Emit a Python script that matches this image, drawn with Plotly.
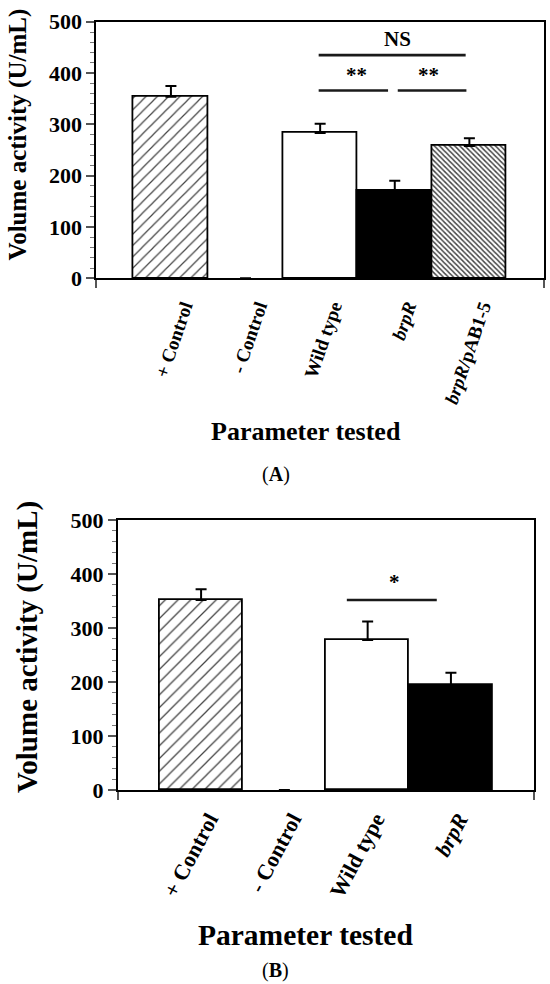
import plotly.graph_objects as go

# ---------------- data ----------------
cats_a = ["+ Control", "- Control", "Wild type", "<i>brpR</i>", "<i>brpR</i>/pAB1-5"]
vals_a = [354, 0, 283, 170, 258]
err_a = [21, 0, 18, 20, 15]

cats_b = ["+ Control", "- Control", "Wild type", "<i>brpR</i>"]
vals_b = [352, 0, 278, 194]
err_b = [20, 0, 34, 23]

y_ticks = [0, 100, 200, 300, 400, 500]

FONT = "Liberation Serif"

pos_a = list(range(len(cats_a)))
pos_b = list(range(len(cats_b)))

fig = go.Figure()

# Panel A bars
fig.add_trace(go.Bar(
    x=pos_a, y=vals_a, width=1,
    marker=dict(
        color=["white", "white", "white", "black", "white"],
        line=dict(color="black", width=[1.8, 0, 1.8, 1.8, 1.8]),
        pattern=dict(shape=["/", "", "", "", "\\"],
                     size=[8, 8, 8, 8, 3.6],
                     solidity=[0.15, 0.1, 0.1, 0.1, 0.4],
                     fgcolor="#222222", fgopacity=1, fillmode="overlay"),
    ),
    error_y=dict(type="data", symmetric=False, array=err_a,
                 arrayminus=[0] * len(err_a), thickness=2, width=5.5, color="black"),
    xaxis="x", yaxis="y", showlegend=False, hoverinfo="skip",
))

# Panel B bars
fig.add_trace(go.Bar(
    x=pos_b, y=vals_b, width=1,
    marker=dict(
        color=["white", "white", "white", "black"],
        line=dict(color="black", width=[1.8, 0, 1.8, 1.8]),
        pattern=dict(shape=["/", "", "", ""], size=9, solidity=0.14,
                     fgcolor="#222222", fgopacity=1, fillmode="overlay"),
    ),
    error_y=dict(type="data", symmetric=False, array=err_b,
                 arrayminus=[0] * len(err_b), thickness=2, width=5.5, color="black"),
    xaxis="x2", yaxis="y2", showlegend=False, hoverinfo="skip",
))

ax_common = dict(showgrid=False, zeroline=False, showline=True, linecolor="black",
                 linewidth=1.8, mirror=True, automargin=False)

fig.update_layout(
    template="none",
    width=550, height=984,
    margin=dict(l=0, r=0, t=0, b=0, pad=0),
    paper_bgcolor="white", plot_bgcolor="white",
    bargap=0,
    xaxis=dict(domain=[0.1751, 0.9891], anchor="y", range=[-1, len(cats_a)],
               tickmode="array", tickvals=pos_a, ticktext=cats_a, ticks="",
               tickangle=-71, ticklabelstandoff=8, ticklabelshift=13,
               tickfont=dict(family=FONT, size=19, color="black", weight="bold"),
               minor=dict(tickmode="array", tickvals=[-1, len(cats_a)], ticks="outside",
                          ticklen=8, tickwidth=1.5, tickcolor="#555"),
               **ax_common),
    yaxis=dict(domain=[0.7172, 0.9779], anchor="x", range=[0, 500],
               tickmode="array", tickvals=y_ticks, ticks="outside", ticklen=8,
               tickwidth=1.5, tickcolor="#555",
               minor=dict(dtick=20, ticks="outside", ticklen=4, tickwidth=1, tickcolor="#777"),
               tickfont=dict(family=FONT, size=22, color="black", weight="bold"),
               **ax_common),
    xaxis2=dict(domain=[0.2142, 0.9713], anchor="y2", range=[-1, len(cats_b)],
                tickmode="array", tickvals=pos_b, ticktext=cats_b, ticks="",
                tickangle=-62, ticklabelstandoff=6, ticklabelshift=8,
                tickfont=dict(family=FONT, size=22, color="black", weight="bold"),
                minor=dict(tickmode="array", tickvals=[-1, len(cats_b)], ticks="outside",
                           ticklen=8, tickwidth=1.5, tickcolor="#555"),
                **ax_common),
    yaxis2=dict(domain=[0.1972, 0.4715], anchor="x2", range=[0, 500],
                tickmode="array", tickvals=y_ticks, ticks="outside", ticklen=8,
                tickwidth=1.5, tickcolor="#555",
                minor=dict(dtick=20, ticks="outside", ticklen=4, tickwidth=1, tickcolor="#777"),
                tickfont=dict(family=FONT, size=22, color="black", weight="bold"),
                **ax_common),
)

# significance bars
sig_lines = [
    ("x", "y", 1.98, 3.95, 435),
    ("x", "y", 1.98, 2.91, 366),
    ("x", "y", 3.04, 3.96, 366),
    ("x2", "y2", 1.75, 2.83, 352),
]
for xr, yr, x0, x1, yv in sig_lines:
    fig.add_shape(type="line", xref=xr, yref=yr, x0=x0, x1=x1, y0=yv, y1=yv,
                  line=dict(color="#1a1a1a", width=2.6))

sig_text = [
    ("x", "y", 3.04, 466, "NS"),
    ("x", "y", 2.49, 396, "**"),
    ("x", "y", 3.45, 396, "**"),
    ("x2", "y2", 2.32, 386, "*"),
]
for xr, yr, xv, yv, t in sig_text:
    fig.add_annotation(xref=xr, yref=yr, x=xv, y=yv, text=t, showarrow=False,
                       font=dict(family=FONT, size=21, color="black", weight="bold"))

def ann(x, y, text, size, angle=0, bold=True):
    fig.add_annotation(xref="paper", yref="paper", x=x, y=y, text=text, showarrow=False,
                       textangle=angle, xanchor="center", yanchor="middle",
                       font=dict(family=FONT, size=size, color="black",
                                 weight="bold" if bold else "normal"))

ann(0.0320, 0.8628, "Volume activity (U/mL)", 25, -90)
ann(0.050, 0.342, "Volume activity (U/mL)", 29, -90)
ann(0.557, 0.5613, "Parameter tested", 26)
ann(0.5556, 0.0498, "Parameter tested", 29.5)
ann(0.501, 0.5173, "(<b>A</b>)", 20, bold=False)
ann(0.500, 0.0142, "(<b>B</b>)", 20, bold=False)

fig.write_html("out.html", config={"displayModeBar": False},
               post_script="document.body.style.margin='0';")
